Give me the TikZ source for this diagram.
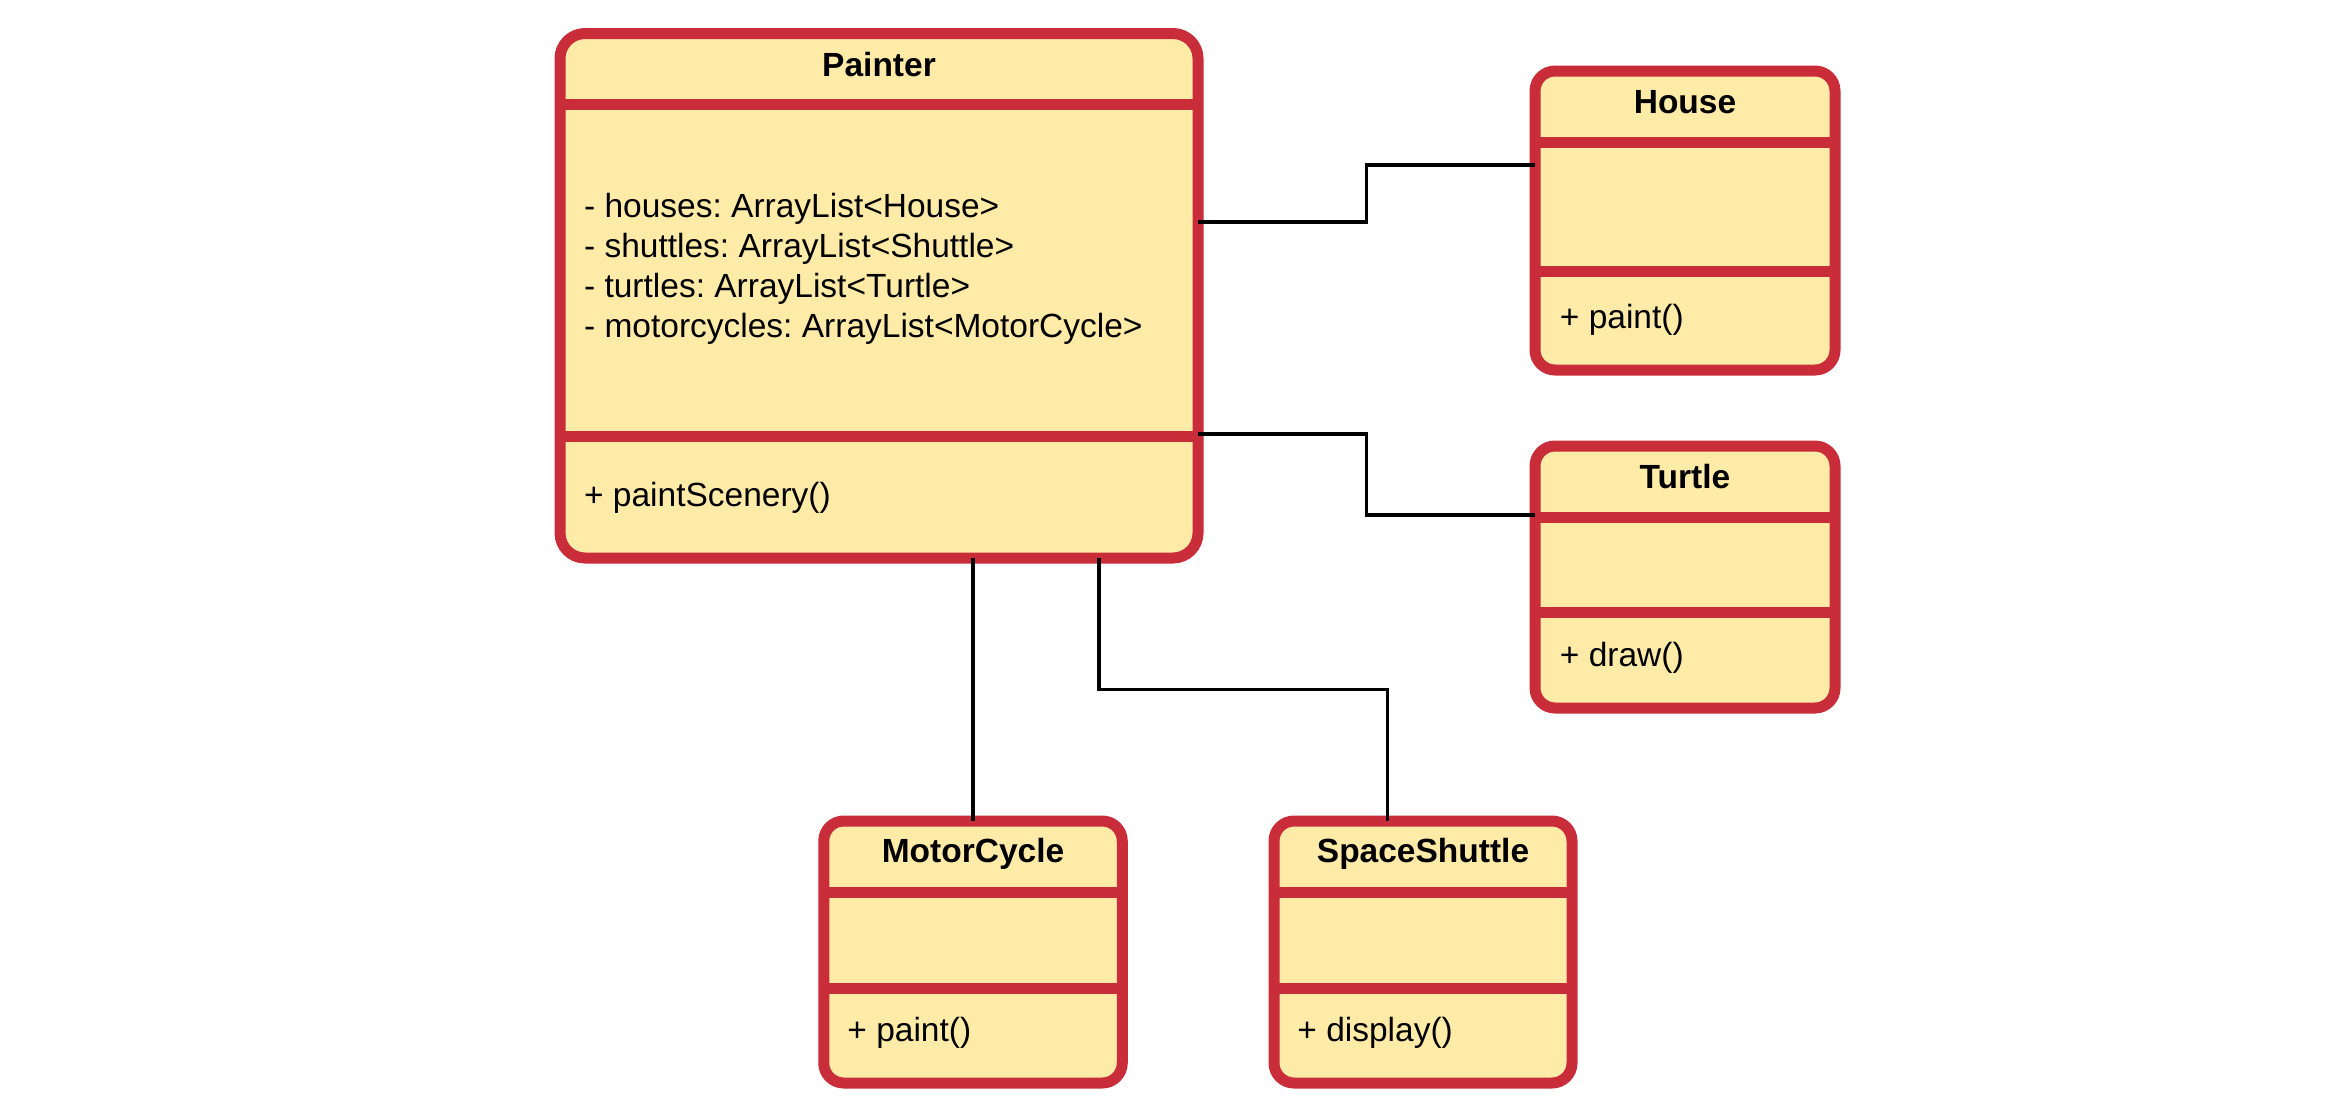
\documentclass[tikz,border=0pt]{standalone}
\usepackage{fontspec}
\setmainfont{Liberation Sans}
\frenchspacing
\definecolor{clsfill}{HTML}{FFEBA8}
\definecolor{clsline}{HTML}{C92D39}
\begin{document}
\begin{tikzpicture}
  [ x=0.5pt, y=-0.5pt,
    clsbox/.style={draw=clsline, fill=clsfill, line width=5.5pt,
    inner sep=0pt, outer sep=0pt},
    clssep/.style={draw=clsline, line width=5.5pt},
    link/.style={draw=black, line width=1.7pt},
    clsname/.style={font=\fontsize{16.75pt}{20.1pt}\bfseries, anchor=base, inner sep=0pt},
    member/.style={font=\fontsize{16.75pt}{20.1pt}\selectfont, anchor=base west, inner sep=0pt}
  ]
  \useasboundingbox (0,0) rectangle (2327,1114);

  % class boxes
  \node (painter) at ( 879.0,295.75) [clsbox, rounded corners=12.5pt,
    minimum width=319pt, minimum height=262.25pt] {};
  \node (house)   at (1685.0,220.5)  [clsbox, rounded corners=10pt,
    minimum width=150pt, minimum height=149.5pt] {};
  \node (turtle)  at (1685.0,577.0)  [clsbox, rounded corners=10pt,
    minimum width=150pt, minimum height=131pt] {};
  \node (motor)   at ( 973.0,952.0)  [clsbox, rounded corners=10pt,
    minimum width=149.25pt, minimum height=131pt] {};
  \node (shuttle) at (1423.0,952.0)  [clsbox, rounded corners=10pt,
    minimum width=149pt, minimum height=131pt] {};

  \draw [clssep] (painter.west |- 0,104.6) -- (painter.east |- 0,104.6);
  \draw [clssep] (painter.west |- 0,436.0) -- (painter.east |- 0,436.0);
  \draw [clssep] (house.west |- 0,142.4) -- (house.east |- 0,142.4);
  \draw [clssep] (house.west |- 0,271.0) -- (house.east |- 0,271.0);
  \draw [clssep] (turtle.west |- 0,517.5) -- (turtle.east |- 0,517.5);
  \draw [clssep] (turtle.west |- 0,612.5) -- (turtle.east |- 0,612.5);
  \draw [clssep] (motor.west |- 0,892.6) -- (motor.east |- 0,892.6);
  \draw [clssep] (motor.west |- 0,988.0) -- (motor.east |- 0,988.0);
  \draw [clssep] (shuttle.west |- 0,892.6) -- (shuttle.east |- 0,892.6);
  \draw [clssep] (shuttle.west |- 0,988.0) -- (shuttle.east |- 0,988.0);

  % names and members
  \node (painterName)  at ( 879.0, 76.5) [clsname] {Painter};
  \node (houseName)    at (1685.0,113.5) [clsname] {House};
  \node (turtleName)   at (1685.0,488.0) [clsname] {Turtle};
  \node (motorName)    at ( 973.0,862.8) [clsname] {MotorCycle};
  \node (shuttleName)  at (1423.0,862.8) [clsname] {SpaceShuttle};

  \node (painterAttr1) at ( 583.7,217.2) [member] {- houses: ArrayList<House>};
  \node (painterAttr2) at ( 583.7,257.4) [member] {- shuttles: ArrayList<Shuttle>};
  \node (painterAttr3) at ( 583.7,297.6) [member] {- turtles: ArrayList<Turtle>};
  \node (painterAttr4) at ( 583.7,337.8) [member] {- motorcycles: ArrayList<MotorCycle>};
  \node (painterOp)    at ( 583.7,506.0) [member] {+ paintScenery()};
  \node (houseOp)      at (1559.5,328.0) [member] {+ paint()};
  \node (turtleOp)     at (1559.5,666.0) [member] {+ draw()};
  \node (motorOp)      at ( 847.0,1041.6) [member] {+ paint()};
  \node (shuttleOp)    at (1297.0,1041.6) [member] {+ display()};

  % associations
  \draw [link] (painter.east |- 0,222) -| (1366.5,165) -- (house.west |- 0,165);
  \draw [link] (painter.east |- 0,434) -| (1366.5,515) -- (turtle.west |- 0,515);
  \draw [link] (painter.south -| motor.north) -- (motor.north);
  \draw [link] (painter.south -| 1099,0) |- (1387.5,689.4) -- (shuttle.north -| 1387.5,0);
\end{tikzpicture}
\end{document}
